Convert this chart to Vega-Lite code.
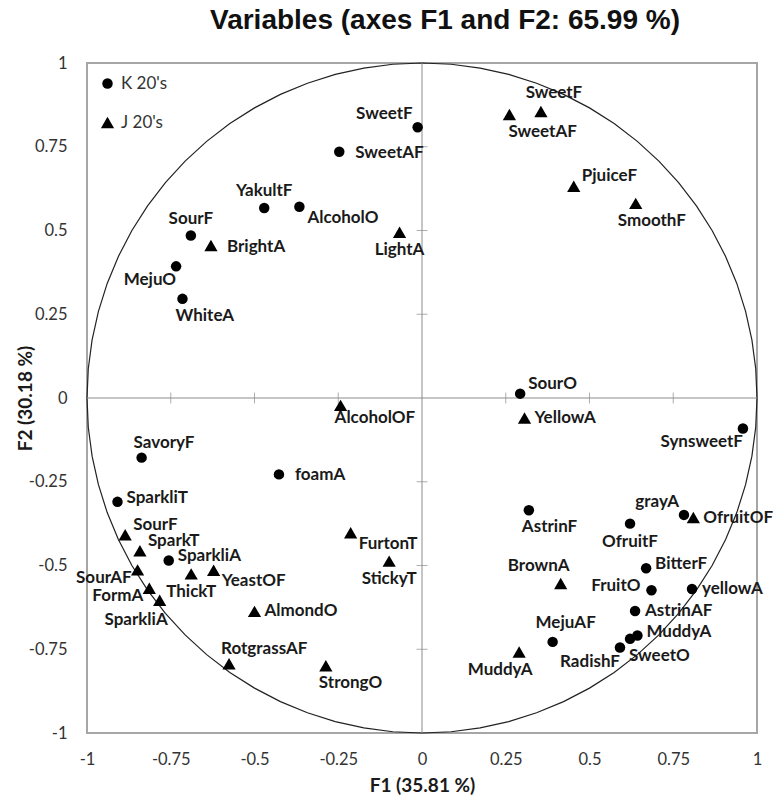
{
  "$schema": "https://vega.github.io/schema/vega-lite/v6.json",
  "width": 670,
  "height": 670,
  "autosize": "none",
  "padding": {"left": 87, "top": 63, "right": 19, "bottom": 67},
  "background": "white",
  "config": {
    "view": {"stroke": "#a6a6a6", "strokeWidth": 2},
    "font": "Lato",
    "text": {"font": "Lato", "fontWeight": "bold", "fontSize": 17, "color": "#1a1a1a", "baseline": "middle"}
  },
  "title": {"text": "Variables (axes F1 and F2: 65.99 %)", "font": "Liberation Sans", "fontSize": 28, "fontWeight": "bold", "color": "#111111", "anchor": "middle", "dx": 23, "offset": -2, "baseline": "alphabetic"},
  "datasets": {
    "pts": [
      {"group": "K 20's", "label": "SweetF", "F1": -0.013, "F2": 0.808},
      {"group": "K 20's", "label": "SweetAF", "F1": -0.247, "F2": 0.735},
      {"group": "K 20's", "label": "YakultF", "F1": -0.471, "F2": 0.567},
      {"group": "K 20's", "label": "AlcoholO", "F1": -0.366, "F2": 0.571},
      {"group": "K 20's", "label": "SourF", "F1": -0.69, "F2": 0.485},
      {"group": "K 20's", "label": "MejuO", "F1": -0.734, "F2": 0.393},
      {"group": "K 20's", "label": "WhiteA", "F1": -0.715, "F2": 0.296},
      {"group": "K 20's", "label": "SavoryF", "F1": -0.837, "F2": -0.178},
      {"group": "K 20's", "label": "foamA", "F1": -0.427, "F2": -0.228},
      {"group": "K 20's", "label": "SparkliT", "F1": -0.909, "F2": -0.31},
      {"group": "K 20's", "label": "SparkliA", "F1": -0.756, "F2": -0.485},
      {"group": "K 20's", "label": "SourO", "F1": 0.293, "F2": 0.013},
      {"group": "K 20's", "label": "SynsweetF", "F1": 0.958, "F2": -0.091},
      {"group": "K 20's", "label": "AstrinF", "F1": 0.319, "F2": -0.335},
      {"group": "K 20's", "label": "grayA", "F1": 0.782, "F2": -0.349},
      {"group": "K 20's", "label": "OfruitF", "F1": 0.621, "F2": -0.375},
      {"group": "K 20's", "label": "BitterF", "F1": 0.669, "F2": -0.508},
      {"group": "K 20's", "label": "FruitO", "F1": 0.685, "F2": -0.574},
      {"group": "K 20's", "label": "yellowA", "F1": 0.806, "F2": -0.57},
      {"group": "K 20's", "label": "AstrinAF", "F1": 0.636, "F2": -0.636},
      {"group": "K 20's", "label": "MejuAF", "F1": 0.39, "F2": -0.728},
      {"group": "K 20's", "label": "RadishF", "F1": 0.591, "F2": -0.745},
      {"group": "K 20's", "label": "SweetO", "F1": 0.621, "F2": -0.719},
      {"group": "K 20's", "label": "MuddyA", "F1": 0.643, "F2": -0.709},
      {"group": "J 20's", "label": "BrightA", "F1": -0.63, "F2": 0.455},
      {"group": "J 20's", "label": "LightA", "F1": -0.067, "F2": 0.495},
      {"group": "J 20's", "label": "SweetF", "F1": 0.355, "F2": 0.855},
      {"group": "J 20's", "label": "SweetAF", "F1": 0.261, "F2": 0.846},
      {"group": "J 20's", "label": "PjuiceF", "F1": 0.453, "F2": 0.632},
      {"group": "J 20's", "label": "SmoothF", "F1": 0.638, "F2": 0.581},
      {"group": "J 20's", "label": "AlcoholOF", "F1": -0.243, "F2": -0.022},
      {"group": "J 20's", "label": "SourF", "F1": -0.886, "F2": -0.408},
      {"group": "J 20's", "label": "SparkT", "F1": -0.842, "F2": -0.456},
      {"group": "J 20's", "label": "SourAF", "F1": -0.849, "F2": -0.513},
      {"group": "J 20's", "label": "ThickT", "F1": -0.689, "F2": -0.525},
      {"group": "J 20's", "label": "YeastOF", "F1": -0.622, "F2": -0.514},
      {"group": "J 20's", "label": "FormA", "F1": -0.814, "F2": -0.568},
      {"group": "J 20's", "label": "SparkliA", "F1": -0.783, "F2": -0.604},
      {"group": "J 20's", "label": "AlmondO", "F1": -0.5, "F2": -0.637},
      {"group": "J 20's", "label": "FurtonT", "F1": -0.213, "F2": -0.402},
      {"group": "J 20's", "label": "StickyT", "F1": -0.098, "F2": -0.487},
      {"group": "J 20's", "label": "RotgrassAF", "F1": -0.576, "F2": -0.793},
      {"group": "J 20's", "label": "StrongO", "F1": -0.287, "F2": -0.799},
      {"group": "J 20's", "label": "YellowA", "F1": 0.306, "F2": -0.06},
      {"group": "J 20's", "label": "OfruitOF", "F1": 0.81, "F2": -0.357},
      {"group": "J 20's", "label": "BrownA", "F1": 0.414, "F2": -0.554},
      {"group": "J 20's", "label": "MuddyA", "F1": 0.29, "F2": -0.758}
    ],
    "circle": [
      {"a": 0, "F1": 1, "F2": 0}, {"a": 5, "F1": 0.9962, "F2": 0.0872}, {"a": 10, "F1": 0.9848, "F2": 0.1736},
      {"a": 15, "F1": 0.9659, "F2": 0.2588}, {"a": 20, "F1": 0.9397, "F2": 0.342}, {"a": 25, "F1": 0.9063, "F2": 0.4226},
      {"a": 30, "F1": 0.866, "F2": 0.5}, {"a": 35, "F1": 0.8192, "F2": 0.5736}, {"a": 40, "F1": 0.766, "F2": 0.6428},
      {"a": 45, "F1": 0.7071, "F2": 0.7071}, {"a": 50, "F1": 0.6428, "F2": 0.766}, {"a": 55, "F1": 0.5736, "F2": 0.8192},
      {"a": 60, "F1": 0.5, "F2": 0.866}, {"a": 65, "F1": 0.4226, "F2": 0.9063}, {"a": 70, "F1": 0.342, "F2": 0.9397},
      {"a": 75, "F1": 0.2588, "F2": 0.9659}, {"a": 80, "F1": 0.1736, "F2": 0.9848}, {"a": 85, "F1": 0.0872, "F2": 0.9962},
      {"a": 90, "F1": 0, "F2": 1}, {"a": 95, "F1": -0.0872, "F2": 0.9962}, {"a": 100, "F1": -0.1736, "F2": 0.9848},
      {"a": 105, "F1": -0.2588, "F2": 0.9659}, {"a": 110, "F1": -0.342, "F2": 0.9397}, {"a": 115, "F1": -0.4226, "F2": 0.9063},
      {"a": 120, "F1": -0.5, "F2": 0.866}, {"a": 125, "F1": -0.5736, "F2": 0.8192}, {"a": 130, "F1": -0.6428, "F2": 0.766},
      {"a": 135, "F1": -0.7071, "F2": 0.7071}, {"a": 140, "F1": -0.766, "F2": 0.6428}, {"a": 145, "F1": -0.8192, "F2": 0.5736},
      {"a": 150, "F1": -0.866, "F2": 0.5}, {"a": 155, "F1": -0.9063, "F2": 0.4226}, {"a": 160, "F1": -0.9397, "F2": 0.342},
      {"a": 165, "F1": -0.9659, "F2": 0.2588}, {"a": 170, "F1": -0.9848, "F2": 0.1736}, {"a": 175, "F1": -0.9962, "F2": 0.0872},
      {"a": 180, "F1": -1, "F2": 0}, {"a": 185, "F1": -0.9962, "F2": -0.0872}, {"a": 190, "F1": -0.9848, "F2": -0.1736},
      {"a": 195, "F1": -0.9659, "F2": -0.2588}, {"a": 200, "F1": -0.9397, "F2": -0.342}, {"a": 205, "F1": -0.9063, "F2": -0.4226},
      {"a": 210, "F1": -0.866, "F2": -0.5}, {"a": 215, "F1": -0.8192, "F2": -0.5736}, {"a": 220, "F1": -0.766, "F2": -0.6428},
      {"a": 225, "F1": -0.7071, "F2": -0.7071}, {"a": 230, "F1": -0.6428, "F2": -0.766}, {"a": 235, "F1": -0.5736, "F2": -0.8192},
      {"a": 240, "F1": -0.5, "F2": -0.866}, {"a": 245, "F1": -0.4226, "F2": -0.9063}, {"a": 250, "F1": -0.342, "F2": -0.9397},
      {"a": 255, "F1": -0.2588, "F2": -0.9659}, {"a": 260, "F1": -0.1736, "F2": -0.9848}, {"a": 265, "F1": -0.0872, "F2": -0.9962},
      {"a": 270, "F1": 0, "F2": -1}, {"a": 275, "F1": 0.0872, "F2": -0.9962}, {"a": 280, "F1": 0.1736, "F2": -0.9848},
      {"a": 285, "F1": 0.2588, "F2": -0.9659}, {"a": 290, "F1": 0.342, "F2": -0.9397}, {"a": 295, "F1": 0.4226, "F2": -0.9063},
      {"a": 300, "F1": 0.5, "F2": -0.866}, {"a": 305, "F1": 0.5736, "F2": -0.8192}, {"a": 310, "F1": 0.6428, "F2": -0.766},
      {"a": 315, "F1": 0.7071, "F2": -0.7071}, {"a": 320, "F1": 0.766, "F2": -0.6428}, {"a": 325, "F1": 0.8192, "F2": -0.5736},
      {"a": 330, "F1": 0.866, "F2": -0.5}, {"a": 335, "F1": 0.9063, "F2": -0.4226}, {"a": 340, "F1": 0.9397, "F2": -0.342},
      {"a": 345, "F1": 0.9659, "F2": -0.2588}, {"a": 350, "F1": 0.9848, "F2": -0.1736}, {"a": 355, "F1": 0.9962, "F2": -0.0872},
      {"a": 360, "F1": 1, "F2": 0}
    ],
    "ticks": [{"t": -0.75}, {"t": -0.5}, {"t": -0.25}, {"t": 0.25}, {"t": 0.5}, {"t": 0.75}]
  },
  "layer": [
    {
      "data": {"name": "circle"},
      "mark": {"type": "line", "color": "#222222", "strokeWidth": 1.2},
      "encoding": {
        "x": {"field": "F1", "type": "quantitative", "scale": {"domain": [-1, 1], "nice": false, "zero": false},
          "axis": {"values": [-1, -0.75, -0.5, -0.25, 0, 0.25, 0.5, 0.75, 1], "labelExpr": "'' + datum.value", "grid": false, "ticks": false, "domain": false,
            "labelPadding": 18, "labelFont": "Lato", "labelFontSize": 16.5, "labelColor": "#333333", "labelFlush": false, "labelOverlap": false,
            "title": "F1 (35.81 %)", "titleFont": "Lato", "titleFontSize": 19, "titleFontWeight": "bold", "titleColor": "#1a1a1a",
            "titleX": 335, "titleY": 52, "titleBaseline": "middle", "titleAlign": "center"}},
        "y": {"field": "F2", "type": "quantitative", "scale": {"domain": [-1, 1], "nice": false, "zero": false},
          "axis": {"values": [-1, -0.75, -0.5, -0.25, 0, 0.25, 0.5, 0.75, 1], "labelExpr": "'' + datum.value", "grid": false, "ticks": false, "domain": false,
            "labelPadding": 20, "labelFont": "Lato", "labelFontSize": 16.5, "labelColor": "#333333", "labelFlush": false, "labelOverlap": false,
            "title": "F2 (30.18 %)", "titleFont": "Lato", "titleFontSize": 19, "titleFontWeight": "bold", "titleColor": "#1a1a1a",
            "titleX": -62, "titleY": 335, "titleAngle": -90, "titleBaseline": "middle", "titleAlign": "center"}},
        "order": {"field": "a", "type": "quantitative"}
      }
    },
    {
      "data": {"values": [{}]},
      "mark": {"type": "rule", "color": "#8c8c8c", "strokeWidth": 1},
      "encoding": {"y": {"datum": 0, "type": "quantitative", "scale": {"domain": [-1, 1], "nice": false, "zero": false}}}
    },
    {
      "data": {"values": [{}]},
      "mark": {"type": "rule", "color": "#8c8c8c", "strokeWidth": 1},
      "encoding": {"x": {"datum": 0, "type": "quantitative", "scale": {"domain": [-1, 1], "nice": false, "zero": false}}}
    },
    {
      "data": {"name": "ticks"},
      "mark": {"type": "tick", "orient": "vertical", "size": 11, "thickness": 1, "color": "#8c8c8c"},
      "encoding": {
        "x": {"field": "t", "type": "quantitative", "scale": {"domain": [-1, 1], "nice": false, "zero": false}},
        "y": {"datum": 0, "type": "quantitative", "scale": {"domain": [-1, 1], "nice": false, "zero": false}}
      }
    },
    {
      "data": {"name": "ticks"},
      "mark": {"type": "tick", "orient": "horizontal", "size": 11, "thickness": 1, "color": "#8c8c8c"},
      "encoding": {
        "y": {"field": "t", "type": "quantitative", "scale": {"domain": [-1, 1], "nice": false, "zero": false}},
        "x": {"datum": 0, "type": "quantitative", "scale": {"domain": [-1, 1], "nice": false, "zero": false}}
      }
    },
    {
      "data": {"name": "pts"},
      "encoding": {
        "x": {"field": "F1", "type": "quantitative", "scale": {"domain": [-1, 1], "nice": false, "zero": false}},
        "y": {"field": "F2", "type": "quantitative", "scale": {"domain": [-1, 1], "nice": false, "zero": false}},
        "text": {"field": "label"}
      },
      "layer": [
        {
          "mark": {"type": "point", "filled": true, "color": "black", "opacity": 1, "strokeWidth": 0},
          "encoding": {
            "text": null,
            "shape": {"field": "group", "type": "nominal", "scale": {"domain": ["K 20's", "J 20's"], "range": ["circle", "triangle-up"]},
              "legend": {"title": null, "orient": "top-left", "offset": 12, "padding": 0, "labelFont": "Lato", "labelFontSize": 17, "labelColor": "#333333", "rowPadding": 21, "labelOffset": 5, "symbolFillColor": "black", "symbolStrokeWidth": 0}},
            "size": {"field": "group", "type": "nominal", "scale": {"domain": ["K 20's", "J 20's"], "range": [110, 175]},
              "legend": {"title": null, "orient": "top-left", "offset": 12, "padding": 0, "labelFont": "Lato", "labelFontSize": 17, "labelColor": "#333333", "rowPadding": 21, "labelOffset": 5, "symbolFillColor": "black", "symbolStrokeWidth": 0}}
          }
        },
        {"mark": {"type": "text", "align": "left", "dx": 16, "dy": 1},
         "transform": [{"filter": "indexof(['K|SweetAF','K|foamA','J|BrightA'], (indexof(datum.group,'K')==0 ? 'K|' : 'J|') + datum.label) >= 0"}]},
        {"mark": {"type": "text", "align": "left", "dx": 10, "dy": 0},
         "transform": [{"filter": "indexof(['K|yellowA','K|AstrinAF','J|OfruitOF','J|AlmondO','J|YellowA'], (indexof(datum.group,'K')==0 ? 'K|' : 'J|') + datum.label) >= 0"}]},
        {"mark": {"type": "text", "align": "left", "dx": 9, "dy": -4},
         "transform": [{"filter": "indexof(['K|SparkliT','K|SparkliA','K|BitterF','K|MuddyA'], (indexof(datum.group,'K')==0 ? 'K|' : 'J|') + datum.label) >= 0"}]},
        {"mark": {"type": "text", "align": "left", "dx": 8, "dy": -10},
         "transform": [{"filter": "indexof(['K|SourO','J|SourF','J|SparkT','J|PjuiceF'], (indexof(datum.group,'K')==0 ? 'K|' : 'J|') + datum.label) >= 0"}]},
        {"mark": {"type": "text", "align": "left", "dx": 8, "dy": 11},
         "transform": [{"filter": "indexof(['K|AlcoholO','J|YeastOF','J|FurtonT'], (indexof(datum.group,'K')==0 ? 'K|' : 'J|') + datum.label) >= 0"}]},
        {"mark": {"type": "text", "align": "left", "dx": -7, "dy": 17},
         "transform": [{"filter": "indexof(['K|WhiteA','K|AstrinF','J|StrongO'], (indexof(datum.group,'K')==0 ? 'K|' : 'J|') + datum.label) >= 0"}]},
        {"mark": {"type": "text", "align": "left", "dx": -6, "dy": 13},
         "transform": [{"filter": "indexof(['J|AlcoholOF'], (indexof(datum.group,'K')==0 ? 'K|' : 'J|') + datum.label) >= 0"}]},
        {"mark": {"type": "text", "align": "left", "dx": -1, "dy": 17},
         "transform": [{"filter": "indexof(['J|SweetAF','K|SweetO'], (indexof(datum.group,'K')==0 ? 'K|' : 'J|') + datum.label) >= 0"}]},
        {"mark": {"type": "text", "align": "left", "dx": -18, "dy": 18},
         "transform": [{"filter": "indexof(['J|SmoothF'], (indexof(datum.group,'K')==0 ? 'K|' : 'J|') + datum.label) >= 0"}]},
        {"mark": {"type": "text", "align": "left", "dx": -8, "dy": -15},
         "transform": [{"filter": "indexof(['K|SavoryF','J|RotgrassAF'], (indexof(datum.group,'K')==0 ? 'K|' : 'J|') + datum.label) >= 0"}]},
        {"mark": {"type": "text", "align": "right", "dx": -5, "dy": -13},
         "transform": [{"filter": "indexof(['K|SweetF','K|grayA'], (indexof(datum.group,'K')==0 ? 'K|' : 'J|') + datum.label) >= 0"}]},
        {"mark": {"type": "text", "align": "right", "dx": -6, "dy": 8},
         "transform": [{"filter": "indexof(['J|SourAF','J|FormA'], (indexof(datum.group,'K')==0 ? 'K|' : 'J|') + datum.label) >= 0"}]},
        {"mark": {"type": "text", "align": "right", "dx": -11, "dy": -4},
         "transform": [{"filter": "indexof(['K|FruitO'], (indexof(datum.group,'K')==0 ? 'K|' : 'J|') + datum.label) >= 0"}]},
        {"mark": {"type": "text", "align": "right", "dx": 0, "dy": 14},
         "transform": [{"filter": "indexof(['K|MejuO','K|SynsweetF','K|RadishF'], (indexof(datum.group,'K')==0 ? 'K|' : 'J|') + datum.label) >= 0"}]},
        {"mark": {"type": "text", "align": "right", "dx": 8, "dy": 20},
         "transform": [{"filter": "indexof(['J|SparkliA'], (indexof(datum.group,'K')==0 ? 'K|' : 'J|') + datum.label) >= 0"}]},
        {"mark": {"type": "text", "align": "center", "dx": 0, "dy": -17},
         "transform": [{"filter": "indexof(['K|YakultF','K|SourF'], (indexof(datum.group,'K')==0 ? 'K|' : 'J|') + datum.label) >= 0"}]},
        {"mark": {"type": "text", "align": "center", "dx": 13, "dy": -19},
         "transform": [{"filter": "indexof(['J|SweetF','K|MejuAF'], (indexof(datum.group,'K')==0 ? 'K|' : 'J|') + datum.label) >= 0"}]},
        {"mark": {"type": "text", "align": "center", "dx": -22, "dy": -18},
         "transform": [{"filter": "indexof(['J|BrownA'], (indexof(datum.group,'K')==0 ? 'K|' : 'J|') + datum.label) >= 0"}]},
        {"mark": {"type": "text", "align": "center", "dx": 0, "dy": 18},
         "transform": [{"filter": "indexof(['J|LightA','J|ThickT','J|StickyT','K|OfruitF'], (indexof(datum.group,'K')==0 ? 'K|' : 'J|') + datum.label) >= 0"}]},
        {"mark": {"type": "text", "align": "center", "dx": -19, "dy": 18},
         "transform": [{"filter": "indexof(['J|MuddyA'], (indexof(datum.group,'K')==0 ? 'K|' : 'J|') + datum.label) >= 0"}]}
      ]
    }
  ]
}
